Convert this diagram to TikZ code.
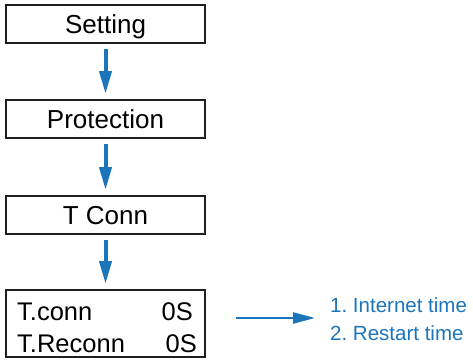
\documentclass[tikz,border=0pt]{standalone}
\usepackage{fontspec}
\setmainfont{Liberation Sans}
\usetikzlibrary{arrows.meta}
\definecolor{flowblue}{HTML}{1B75BB}
\definecolor{boxline}{HTML}{231F20}
\frenchspacing
\begin{document}
\begin{tikzpicture}[x=1pt,y=-1pt,
  menubox/.style={draw=boxline,line width=2pt,rectangle,inner sep=0pt,
    minimum width=199pt,minimum height=38pt,text height=19pt,text depth=0pt,
    font=\fontsize{26}{28}\selectfont},
  bigbox/.style={draw=boxline,line width=2pt,rectangle,inner sep=0pt,
    minimum width=199pt,minimum height=67pt},
  flowarrow/.style={draw=flowblue,line width=4pt,-{Triangle[length=23pt,width=12pt]}},
  rowtext/.style={inner sep=0pt,font=\fontsize{25.5}{28}\selectfont},
  notetext/.style={inner sep=0pt,anchor=base west,text=flowblue,font=\fontsize{20.5}{24}\selectfont}]
\useasboundingbox (0,0) rectangle (473,360);
\node[menubox] (setting) at (105.5,24) {Setting};
\node[menubox] (protection) at (105.5,119) {Protection};
\node[menubox] (tconn) at (105.5,215) {T Conn};
\node[bigbox] (values) at (105.5,323.5) {};
\node[rowtext,anchor=base west] (l1) at (17,320) {T.conn};
\node[rowtext,anchor=base east] (v1) at (193,320) {0S};
\node[rowtext,anchor=base west] (l2) at (17,352) {T.Reconn};
\node[rowtext,anchor=base east] (v2) at (197,352) {0S};
\draw[flowarrow,shorten <=5pt,shorten >=5pt] (setting.south) -- (protection.north);
\draw[flowarrow,shorten <=5pt,shorten >=5pt] (protection.south) -- (tconn.north);
\draw[flowarrow,shorten <=5pt,shorten >=5pt] (tconn.south) -- (values.north);
\coordinate (rs) at (236,318);
\coordinate (re) at (315,318);
\draw[flowarrow,line width=2.2pt,-{Triangle[length=22pt,width=11pt]}] (rs) -- (re);
\node[notetext] (n1) at (330,312) {1. Internet time};
\node[notetext] (n2) at (330,340) {2. Restart time};
\end{tikzpicture}
\end{document}
